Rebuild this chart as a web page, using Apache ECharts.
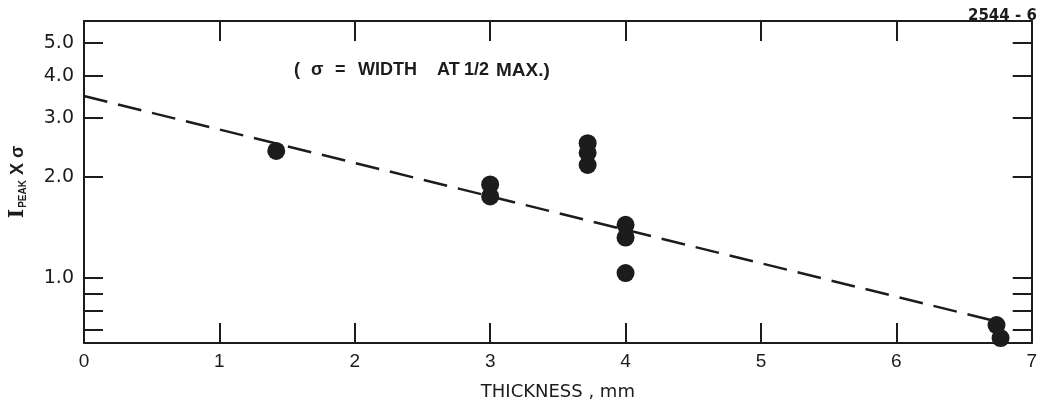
<!DOCTYPE html>
<html>
<head>
<meta charset="utf-8">
<script src="https://cdn.jsdelivr.net/npm/echarts@6/dist/echarts.min.js"></script>
<style>
html,body{margin:0;padding:0;background:#fff;}
#chart{width:1040px;height:408px;}
</style>
</head>
<body>
<div id="chart"></div>
<script>
// ---- data ----
const thickness = [1.42, 3.0, 3.0, 3.72, 3.72, 3.72, 4.0, 4.0, 4.0, 6.74, 6.77];
const peakTimesWidth = [2.39, 1.90, 1.75, 2.52, 2.36, 2.17, 1.44, 1.32, 1.035, 0.725, 0.663];
const fitThickness = [0, 6.7];
const fitValues = [3.48, 0.75];
const yTickValues = [0.7, 0.8, 0.9, 1, 2, 3, 4, 5];
const yLabelValues = [1, 2, 3, 4, 5];
const xTickValues = [0, 1, 2, 3, 4, 5, 6, 7];

const ink = '#1c1c1c';
const sansFont = "'Liberation Sans','DejaVu Sans',sans-serif";
const chart = echarts.init(document.getElementById('chart'), null, {renderer: 'canvas'});

function yAxisBase() {
  return {
    type: 'log',
    logBase: 10,
    min: 0.641,
    max: 5.82,
    axisLine: {show: true, onZero: false, lineStyle: {color: ink, width: 2}},
    splitLine: {show: false},
    minorTick: {show: false},
    axisTick: {show: true, inside: true, length: 19, customValues: yTickValues, lineStyle: {color: ink, width: 2}}
  };
}
function xAxisBase() {
  return {
    type: 'value',
    min: 0, max: 7, interval: 1,
    axisLine: {show: true, onZero: false, lineStyle: {color: ink, width: 2}},
    axisTick: {show: true, inside: true, length: 20, lineStyle: {color: ink, width: 2}},
    splitLine: {show: false}
  };
}

const annot = [
  ['(', 294, 18], ['σ', 311, 18], ['=', 335, 18], ['WIDTH', 358, 18], ['AT', 437, 18], ['1/2', 464, 18],
  ['MAX.)', 496, 19]
];

chart.setOption({
  animation: false,
  backgroundColor: '#ffffff',
  grid: {left: 83, right: 8, top: 21, bottom: 65, containLabel: false},
  xAxis: [Object.assign(xAxisBase(), {
    position: 'bottom',
    name: 'THICKNESS , mm',
    nameLocation: 'middle',
    nameGap: 40,
    nameTextStyle: {color: ink, fontSize: 18, fontFamily: "'DejaVu Sans',sans-serif"},
    axisLabel: {show: true, color: ink, fontSize: 19, margin: 9, fontFamily: sansFont,
      customValues: xTickValues, formatter: v => String(v)}
  }), Object.assign(xAxisBase(), {
    position: 'top',
    axisLabel: {show: false}
  })],
  yAxis: [Object.assign(yAxisBase(), {
    position: 'left',
    name: '{i|I}{s|PEAK}{t| X σ}',
    nameLocation: 'middle',
    nameGap: 56,
    nameTextStyle: {
      color: ink,
      rich: {
        i: {fontSize: 20, fontFamily: "'DejaVu Serif',serif", fontWeight: 'bold', color: ink},
        s: {fontSize: 10, fontFamily: sansFont, fontWeight: 'bold', color: ink, verticalAlign: 'bottom', padding: [6, 0, 0, 1]},
        t: {fontSize: 18, fontFamily: sansFont, fontWeight: 'bold', color: ink}
      }
    },
    axisLabel: {show: true, color: ink, fontSize: 19, margin: 10, fontFamily: "'DejaVu Sans',sans-serif",
      customValues: yLabelValues, formatter: v => Number(v).toFixed(1)}
  }), Object.assign(yAxisBase(), {
    position: 'right',
    axisLabel: {show: false}
  })],
  graphic: [
    {type: 'text', left: 968, top: 9, style: {text: '2544 - 6', fill: ink, font: "bold 15px 'DejaVu Sans',sans-serif"}}
  ].concat(annot.map(([t, x, fs]) => ({
    type: 'text', left: x, top: 61, style: {text: t, fill: ink, font: "bold " + fs + "px " + sansFont}
  }))),
  series: [{
    type: 'line',
    data: fitThickness.map((x, i) => [x, fitValues[i]]),
    xAxisIndex: 0, yAxisIndex: 0,
    symbol: 'none',
    lineStyle: {color: ink, width: 2.5, type: [24, 11]},
    z: 2
  }, {
    type: 'scatter',
    data: thickness.map((x, i) => [x, peakTimesWidth[i]]),
    xAxisIndex: 0, yAxisIndex: 0,
    symbol: 'circle',
    symbolSize: 18,
    itemStyle: {color: ink, opacity: 1},
    z: 3
  }]
});
</script>
</body>
</html>
